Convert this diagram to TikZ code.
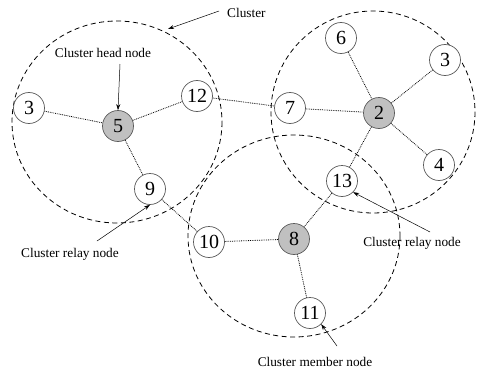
\documentclass[tikz,border=0pt]{standalone}
\usepackage{fontspec}
\setmainfont{Liberation Serif}
\usetikzlibrary{arrows.meta}
\definecolor{headfill}{RGB}{192,192,192}
\definecolor{rimgray}{RGB}{90,90,90}
\tikzset{
  member/.style={circle, draw=rimgray, line width=0.7pt, fill=white,
    minimum size=31pt, inner sep=0pt, font=\fontsize{20}{20}\selectfont},
  head/.style={member, fill=headfill},
  link/.style={densely dotted, line width=0.8pt},
  region/.style={dashed, dash pattern=on 5pt off 3.5pt, line width=0.8pt},
  caption/.style={font=\fontsize{13.3}{14}\selectfont, inner sep=0pt},
  pointer/.style={line width=0.5pt, -{Stealth[length=6pt,width=4pt]}}
}
\begin{document}
\begin{tikzpicture}[x=1pt,y=-1pt]
\useasboundingbox (0,0) rectangle (477,372);

% cluster boundaries
\draw[region] (117,122) circle[x radius=105, y radius=101];
\draw[region] (373,112) circle[x radius=102, y radius=101];
\draw[region] (294,236) circle[x radius=106, y radius=101];

% sensor nodes
\node[member] (a3)  at (29,108)  {3};
\node[head]   (a5)  at (118,126) {5};
\node[member] (a12) at (197,96)  {12};
\node[member] (a9)  at (150,189) {9};
\node[member] (a10) at (209,242) {10};
\node[member] (a7)  at (290,108) {7};
\node[member] (a6)  at (341,38)  {6};
\node[member] (b3)  at (445,60)  {3};
\node[head]   (a2)  at (379,113) {2};
\node[member] (a4)  at (439,165) {4};
\node[member] (a13) at (342,181) {13};
\node[head]   (a8)  at (294,239) {8};
\node[member] (a11) at (310,313) {11};

% links between nodes
\draw[link] (a3) -- (a5);
\draw[link] (a5) -- (a12);
\draw[link] (a5) -- (a9);
\draw[link] (a12) -- (a7);
\draw[link] (a7) -- (a2);
\draw[link] (a6) -- (a2);
\draw[link] (b3) -- (a2);
\draw[link] (a2) -- (a4);
\draw[link] (a2) -- (a13);
\draw[link] (a13) -- (a8);
\draw[link] (a10) -- (a8);
\draw[link] (a8) -- (a11);
\draw[link] (a9) -- (a10);

% captions
\node[caption, anchor=west] (tcl) at (227,13) {Cluster};
\node[caption] (thd) at (103,53) {Cluster head node};
\node[caption] (trl) at (70,254) {Cluster relay node};
\node[caption] (trr) at (412,243) {Cluster relay node};
\node[caption] (tmb) at (315,362) {Cluster member node};

\coordinate (pcl) at (219,11);
\coordinate (ecl) at (168,29);
\coordinate (phd) at (120,64);
\coordinate (prl) at (97,241);
\coordinate (prr) at (430,232);
\coordinate (pmb) at (337,346);

\draw[pointer] (pcl) -- (ecl);
\draw[pointer] (phd) -- (a5.north);
\draw[pointer] (prl) -- (a9.south);
\draw[pointer] (prr) -- (a13.-45);
\draw[pointer] (pmb) -- (a11.-45);
\end{tikzpicture}
\end{document}
